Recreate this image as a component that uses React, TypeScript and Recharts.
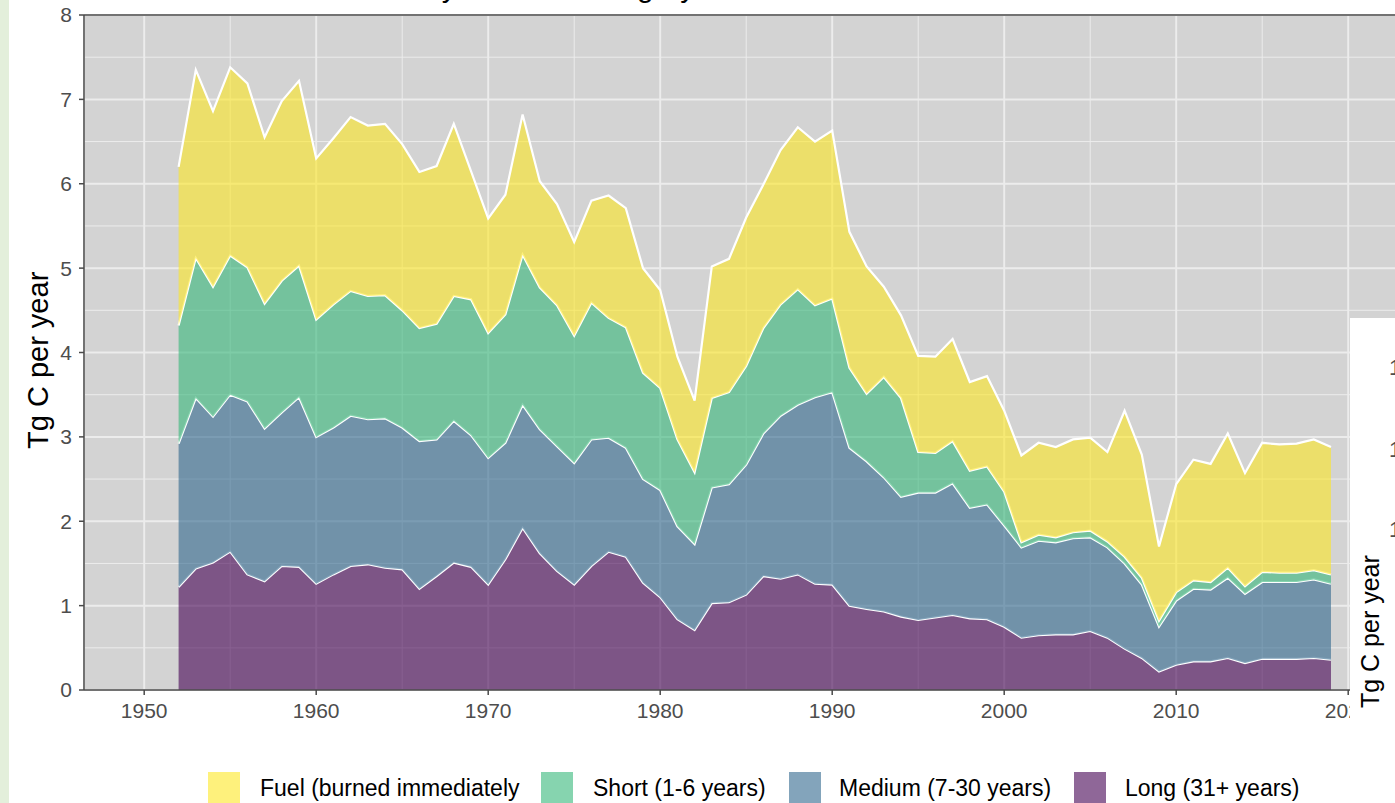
import { AreaChart, Area, XAxis, YAxis, CartesianGrid, ReferenceLine } from "recharts";

// years
const years = [
  1952, 1953, 1954, 1955, 1956, 1957, 1958, 1959, 1960, 1961, 1962, 1963, 1964, 1965, 1966, 1967, 1968,
  1969, 1970, 1971, 1972, 1973, 1974, 1975, 1976, 1977, 1978, 1979, 1980, 1981, 1982, 1983, 1984, 1985,
  1986, 1987, 1988, 1989, 1990, 1991, 1992, 1993, 1994, 1995, 1996, 1997, 1998, 1999, 2000, 2001, 2002,
  2003, 2004, 2005, 2006, 2007, 2008, 2009, 2010, 2011, 2012, 2013, 2014, 2015, 2016, 2017, 2018, 2019
];

// Tg C per year, by product class
const longLived = [
  1.22, 1.44, 1.51, 1.64, 1.37, 1.29, 1.47, 1.46, 1.26, 1.37, 1.47, 1.49, 1.45, 1.43, 1.2, 1.35, 1.51,
  1.46, 1.25, 1.55, 1.92, 1.62, 1.41, 1.25, 1.47, 1.64, 1.58, 1.27, 1.1, 0.84, 0.71, 1.03, 1.04, 1.13,
  1.35, 1.32, 1.37, 1.26, 1.25, 1.0, 0.96, 0.93, 0.87, 0.83, 0.86, 0.89, 0.85, 0.84, 0.75, 0.62, 0.65,
  0.66, 0.66, 0.7, 0.62, 0.49, 0.38, 0.22, 0.3, 0.34, 0.34, 0.38, 0.32, 0.37, 0.37, 0.37, 0.38, 0.36
];
const medium = [
  1.7, 2.02, 1.73, 1.86, 2.05, 1.81, 1.82, 2.01, 1.74, 1.74, 1.78, 1.72, 1.77, 1.68, 1.75, 1.62, 1.68,
  1.56, 1.5, 1.38, 1.46, 1.47, 1.48, 1.44, 1.5, 1.35, 1.29, 1.23, 1.27, 1.1, 1.02, 1.37, 1.4, 1.54,
  1.69, 1.93, 2.01, 2.21, 2.28, 1.87, 1.75, 1.59, 1.42, 1.51, 1.48, 1.56, 1.31, 1.36, 1.2, 1.07, 1.12,
  1.09, 1.14, 1.11, 1.07, 1.01, 0.87, 0.53, 0.76, 0.86, 0.85, 0.95, 0.82, 0.91, 0.91, 0.91, 0.93, 0.9
];
const shortLived = [
  1.4, 1.66, 1.54, 1.65, 1.59, 1.48, 1.56, 1.56, 1.39, 1.46, 1.48, 1.46, 1.46, 1.39, 1.34, 1.37, 1.48,
  1.61, 1.48, 1.52, 1.78, 1.68, 1.67, 1.51, 1.62, 1.42, 1.43, 1.26, 1.21, 1.03, 0.85, 1.06, 1.09, 1.17,
  1.25, 1.32, 1.37, 1.09, 1.11, 0.95, 0.8, 1.19, 1.17, 0.48, 0.47, 0.5, 0.44, 0.45, 0.4, 0.06, 0.07,
  0.06, 0.07, 0.08, 0.07, 0.08, 0.08, 0.07, 0.1, 0.1, 0.09, 0.12, 0.09, 0.12, 0.11, 0.11, 0.11, 0.11
];
const fuel = [
  1.88, 2.23, 2.08, 2.23, 2.18, 1.97, 2.13, 2.19, 1.91, 1.97, 2.06, 2.02, 2.03, 1.97, 1.85, 1.87, 2.04,
  1.52, 1.36, 1.42, 1.66, 1.26, 1.2, 1.11, 1.21, 1.45, 1.41, 1.24, 1.16, 0.98, 0.85, 1.56, 1.58, 1.76,
  1.7, 1.83, 1.92, 1.94, 1.99, 1.61, 1.51, 1.07, 0.98, 1.14, 1.14, 1.21, 1.05, 1.07, 0.96, 1.03, 1.09,
  1.07, 1.1, 1.1, 1.06, 1.73, 1.46, 0.88, 1.28, 1.43, 1.4, 1.59, 1.34, 1.53, 1.52, 1.53, 1.55, 1.51
];

const yTicks = [0, 1, 2, 3, 4, 5, 6, 7, 8];
const yMinor = [0.5, 1.5, 2.5, 3.5, 4.5, 5.5, 6.5, 7.5];
const xTicks = [1950, 1960, 1970, 1980, 1990, 2000, 2010, 2020];
const xMinor = [1955, 1965, 1975, 1985, 1995, 2005, 2015];

// bottom to top of the stack
const series = [
  { key: "long", label: "Long (31+ years)", color: "#440154" },
  { key: "medium", label: "Medium (7-30 years)", color: "#31688E" },
  { key: "short", label: "Short (1-6 years)", color: "#35B779" },
  { key: "fuel", label: "Fuel (burned immediately", color: "#FDE725" }
];

const legendPos = [
  { key: "fuel", box: 208, text: 260 },
  { key: "short", box: 541, text: 593 },
  { key: "medium", box: 789, text: 839 },
  { key: "long", box: 1074, text: 1125 }
];

const rows = years.map((year, i) => ({
  year,
  long: longLived[i],
  medium: medium[i],
  short: shortLived[i],
  fuel: fuel[i]
}));

const FONT = "'Liberation Sans', Arial, Helvetica, sans-serif";
const GRID = "#ececec";
const AXIS = "#4a4a4a";

export default function App() {
  return (
    <div style={{ position: "relative", width: 1395, height: 803, overflow: "hidden", background: "#fff", fontFamily: FONT }}>
      <style>{"body{margin:0;overflow:hidden}"}</style>
      <div style={{ position: "absolute", left: 0, top: 0, width: 9, height: 803, background: "#e3efdb" }} />
      <div style={{ position: "absolute", left: 100, top: -28, fontSize: 30, lineHeight: "30px", whiteSpace: "nowrap", color: "#000" }}>
        Harvested wood carbon by end use category
      </div>
      <div style={{ position: "absolute", left: 0, top: 0 }}>
        <AreaChart width={1410} height={803} data={rows} margin={{ top: 15, right: 1.6, bottom: 83, left: 0 }}>
          <CartesianGrid fill="#d3d3d3" stroke={GRID} strokeWidth={2} />
          {yMinor.map((v) => (
            <ReferenceLine key={"y" + v} y={v} stroke={GRID} strokeWidth={1} zIndex={-50} />
          ))}
          {xMinor.map((v) => (
            <ReferenceLine key={"x" + v} x={v} stroke={GRID} strokeWidth={1} zIndex={-50} />
          ))}
          <XAxis
            type="number"
            dataKey="year"
            domain={[1946.5, 2023.5]}
            ticks={xTicks}
            interval={0}
            height={30}
            tickSize={5}
            tickMargin={8}
            axisLine={{ stroke: AXIS, strokeWidth: 1.5 }}
            tickLine={{ stroke: AXIS, strokeWidth: 1.5 }}
            tick={{ fill: "#4d4d4d", fontSize: 21, fontFamily: FONT }}
          />
          <YAxis
            type="number"
            domain={[0, 8]}
            ticks={yTicks}
            interval={0}
            width={84}
            tickSize={5}
            tickMargin={7}
            axisLine={{ stroke: AXIS, strokeWidth: 1.5 }}
            tickLine={{ stroke: AXIS, strokeWidth: 1.5 }}
            tick={{ fill: "#4d4d4d", fontSize: 21, fontFamily: FONT }}
          />
          {series.map((s) => (
            <Area
              key={s.key}
              type="linear"
              dataKey={s.key}
              stackId="1"
              fill={s.color}
              fillOpacity={0.6}
              stroke="#ffffff"
              strokeWidth={2.2}
              dot={false}
              activeDot={false}
              isAnimationActive={false}
            />
          ))}
          <ReferenceLine y={8} stroke={AXIS} strokeWidth={1.5} />
        </AreaChart>
      </div>
      <div
        style={{
          position: "absolute", left: 24, top: 449, transform: "rotate(-90deg)", transformOrigin: "left top",
          fontSize: 29, lineHeight: "29px", whiteSpace: "nowrap", color: "#000"
        }}
      >
        Tg C per year
      </div>
      <div style={{ position: "absolute", left: 1350, top: 318, width: 60, height: 500, background: "#fff" }}>
        {[50, 132, 212].map((t) => (
          <div key={t} style={{ position: "absolute", left: 39, top: t - 11, fontSize: 22, lineHeight: "22px", color: "#4d4d4d" }}>1</div>
        ))}
        <div
          style={{
            position: "absolute", left: 8, top: 390, transform: "rotate(-90deg)", transformOrigin: "left top",
            fontSize: 25, lineHeight: "25px", whiteSpace: "nowrap", color: "#000"
          }}
        >
          Tg C per year
        </div>
      </div>
      {legendPos.map((p) => {
        const s = series.find((x) => x.key === p.key)!;
        return (
          <div key={p.key}>
            <div style={{ position: "absolute", left: p.box, top: 772, width: 32, height: 34, background: s.color, opacity: 0.6 }} />
            <div style={{ position: "absolute", left: p.text, top: 775, fontSize: 23, lineHeight: "26px", whiteSpace: "nowrap", color: "#000" }}>
              {s.label}
            </div>
          </div>
        );
      })}
    </div>
  );
}
